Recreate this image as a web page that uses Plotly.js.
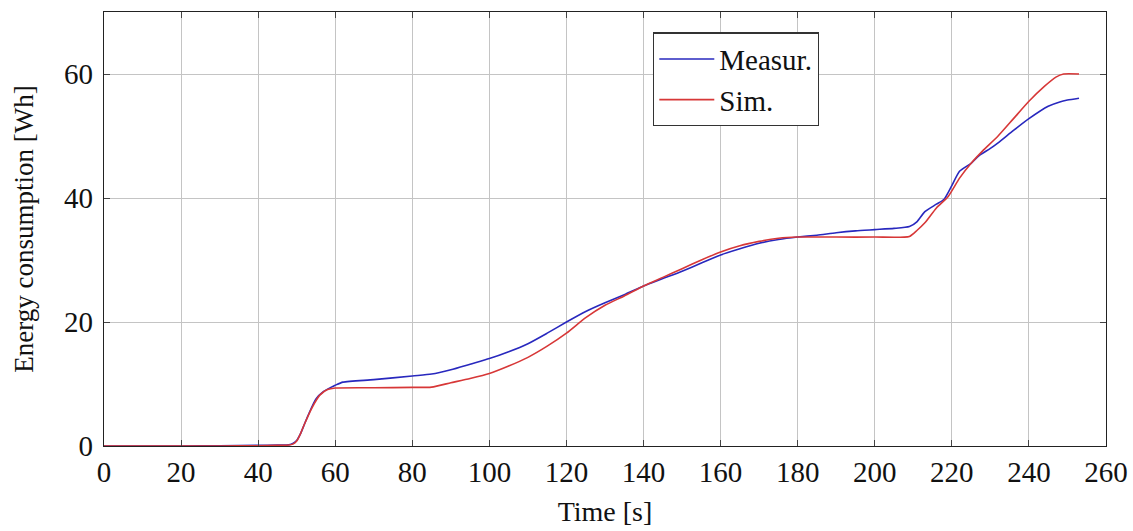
<!DOCTYPE html>
<html>
<head>
<meta charset="utf-8">
<script src="https://cdn.plot.ly/plotly-3.0.1.min.js"></script>
<style>html,body{margin:0;padding:0;background:#fff;}#chart{width:1133px;height:531px;}</style>
</head>
<body>
<div id="chart"></div>
<script>
// Measured energy consumption
const measTime = [0, 10, 20, 30, 40, 45, 48, 49, 50, 51, 52, 53, 55, 57, 59, 60, 62, 70, 80, 85, 90, 95, 100, 105, 110, 115, 120, 125, 130, 135, 140, 145, 150, 155, 160, 165, 170, 175, 180, 185, 190, 195, 200, 205, 209, 211, 213, 216, 218, 220, 222, 225, 227, 230, 232, 236, 240, 245, 248, 250, 253];
const measEnergy = [0, 0, 0, 0.05, 0.1, 0.15, 0.2, 0.4, 0.9, 2.0, 3.5, 5.0, 7.6, 8.8, 9.5, 9.8, 10.3, 10.7, 11.3, 11.6, 12.3, 13.2, 14.1, 15.2, 16.5, 18.2, 20.0, 21.7, 23.1, 24.4, 25.8, 27.0, 28.2, 29.5, 30.8, 31.8, 32.7, 33.3, 33.7, 34.0, 34.4, 34.7, 34.9, 35.1, 35.4, 36.2, 37.8, 39.0, 39.8, 42.0, 44.3, 45.6, 46.8, 48.0, 48.9, 50.9, 52.8, 54.8, 55.5, 55.8, 56.1];
// Simulated energy consumption
const simTime = [0, 10, 20, 30, 40, 45, 48, 49, 50, 51, 52, 54, 56, 58, 60, 70, 80, 85, 90, 95, 100, 105, 110, 115, 120, 125, 130, 135, 140, 145, 150, 155, 160, 165, 170, 175, 180, 190, 200, 209, 211, 213, 216, 219, 222, 225, 228, 232, 236, 240, 244, 247, 249, 253];
const simEnergy = [0, 0, 0, 0, 0.05, 0.1, 0.15, 0.3, 0.8, 2.0, 3.5, 6.2, 8.2, 9.1, 9.35, 9.4, 9.45, 9.5, 10.2, 10.9, 11.7, 12.9, 14.3, 16.1, 18.2, 20.7, 22.7, 24.2, 25.8, 27.2, 28.6, 30.0, 31.3, 32.3, 33.0, 33.5, 33.7, 33.7, 33.7, 33.8, 34.8, 36.0, 38.4, 40.2, 43.2, 45.6, 47.6, 50.0, 52.8, 55.6, 58.0, 59.5, 60.0, 60.0];

const xTicks = [0, 20, 40, 60, 80, 100, 120, 140, 160, 180, 200, 220, 240, 260];
const yTicks = [0, 20, 40, 60];
const seriesNames = ['Measur.', 'Sim.'];

const serif = 'Liberation Serif, DejaVu Serif, serif';

const traces = [
  {x: measTime, y: measEnergy, name: seriesNames[0], type: 'scatter', mode: 'lines',
   line: {color: 'rgb(40,40,190)', width: 1.6, shape: 'spline', smoothing: 0.6}},
  {x: simTime, y: simEnergy, name: seriesNames[1], type: 'scatter', mode: 'lines',
   line: {color: 'rgb(215,55,55)', width: 1.6, shape: 'spline', smoothing: 0.6}}
];

const axisCommon = {
  showgrid: true, gridcolor: '#c4c4c4', gridwidth: 1,
  showline: true, linecolor: '#222', linewidth: 1.2, mirror: 'allticks',
  ticks: 'inside', ticklen: 6, tickcolor: '#444', tickwidth: 1,
  zeroline: false,
  tickfont: {family: serif, size: 29, color: '#111'}
};

const layout = {
  width: 1133, height: 531,
  margin: {l: 104, r: 27, t: 12, b: 85},
  paper_bgcolor: '#fff', plot_bgcolor: '#fff',
  showlegend: true,
  xaxis: Object.assign({}, axisCommon, {
    range: [0, 260], tickmode: 'array', tickvals: xTicks, ticktext: xTicks.map(String),
    ticklabelstandoff: 0,
    title: {text: 'Time [s]', font: {family: serif, size: 28, color: '#111'}, standoff: 14}
  }),
  yaxis: Object.assign({}, axisCommon, {
    range: [0, 70], tickmode: 'array', tickvals: yTicks, ticktext: yTicks.map(String),
    ticklabelstandoff: 4,
    title: {text: 'Energy consumption [Wh]', font: {family: serif, size: 27, color: '#111'}, standoff: 22}
  }),
  legend: {
    x: 0.548, y: 0.953, xanchor: 'left', yanchor: 'top',
    bgcolor: '#fff', bordercolor: '#333', borderwidth: 1.2,
    font: {family: serif, size: 29, color: '#111'},
    itemwidth: 55, tracegroupgap: 0
  }
};

Plotly.newPlot('chart', traces, layout, {displayModeBar: false, staticPlot: true});
</script>
</body>
</html>
